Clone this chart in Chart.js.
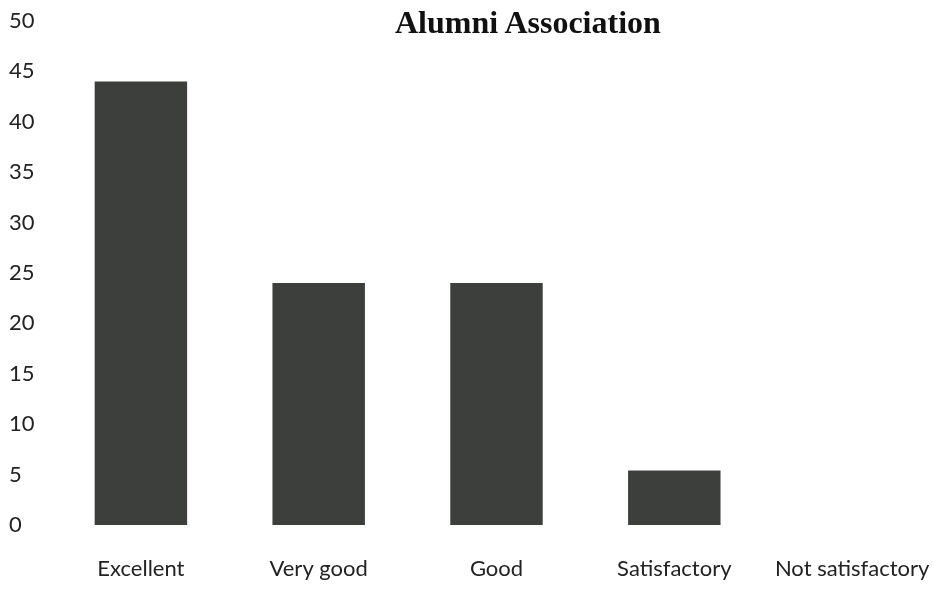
<!DOCTYPE html>
<html>
<head>
<meta charset="utf-8">
<script src="https://cdn.jsdelivr.net/npm/chart.js@4/dist/chart.umd.min.js"></script>
<style>
  html, body { margin: 0; padding: 0; background: #ffffff; }
  #wrap { position: relative; width: 933px; height: 596px; overflow: hidden; }
  #c { display: block; }
  #title { position: absolute; left: 395px; top: 6px; font-family: "Liberation Serif", "DejaVu Serif", serif; font-weight: bold; font-size: 32px; line-height: 32px; color: #111; white-space: nowrap; }
</style>
</head>
<body>
<div id="wrap">
  <canvas id="c" width="941" height="596"></canvas>
  <div id="title">Alumni Association</div>
</div>
<script>
const categories = ["Excellent", "Very good", "Good", "Satisfactory", "Not satisfactory"];
const values = [44, 24, 24, 5.4, 0];
const yTicks = [0, 5, 10, 15, 20, 25, 30, 35, 40, 45, 50];

new Chart(document.getElementById('c'), {
  type: 'bar',
  data: {
    labels: categories,
    datasets: [{
      data: values,
      backgroundColor: '#3c3f3c',
      borderWidth: 0,
      categoryPercentage: 1.0,
      barPercentage: 0.52
    }]
  },
  options: {
    responsive: false,
    animation: false,
    layout: { padding: { left: 9, top: 21, right: 0, bottom: 14 } },
    plugins: { legend: { display: false }, title: { display: false }, tooltip: { enabled: false } },
    scales: {
      x: {
        grid: { display: false, drawTicks: false },
        border: { display: false },
        ticks: { color: '#222', font: { family: 'Lato', size: 22 }, padding: 31, maxRotation: 0, autoSkip: false },
        afterFit: (axis) => { axis.height = 57; axis.paddingLeft = 0; axis.paddingRight = 0; }
      },
      y: {
        min: 0, max: 50,
        afterBuildTicks: (axis) => { axis.ticks = yTicks.map(v => ({ value: v })); },
        grid: { display: false, drawTicks: false },
        border: { display: false },
        ticks: { color: '#222', font: { family: 'Lato', size: 22 }, padding: 10, crossAlign: 'far' },
        afterFit: (axis) => { axis.width = 43; axis.paddingTop = 0; axis.paddingBottom = 0; }
      }
    }
  }
});
</script>
</body>
</html>
